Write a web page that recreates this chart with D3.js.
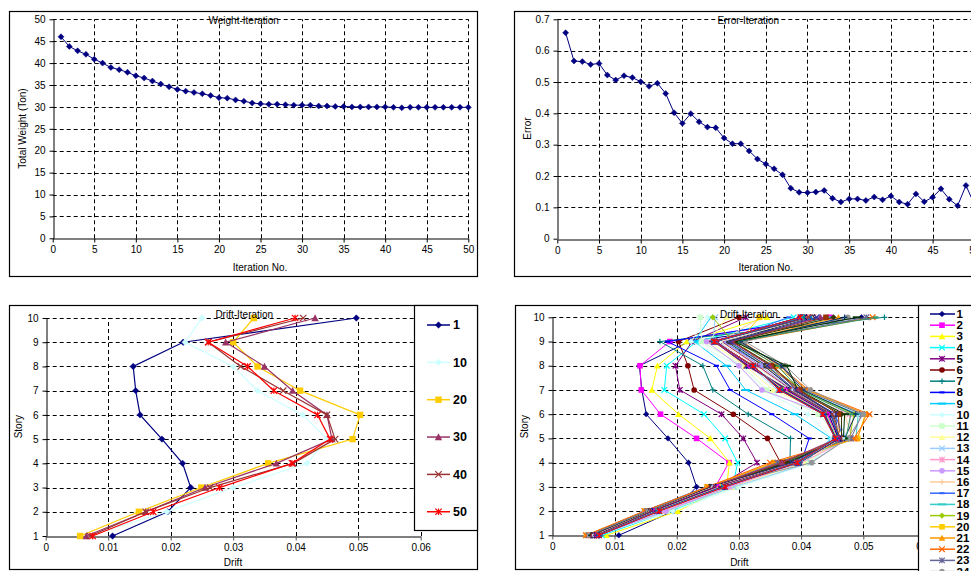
<!DOCTYPE html>
<html><head><meta charset="utf-8">
<script src="https://cdn.jsdelivr.net/npm/d3@7"></script>
<style>
body{margin:0;background:#fff}
svg{display:block}
text{font-family:"Liberation Sans",Arial,sans-serif;fill:#000}
</style>
</head><body>
<svg id="c" width="971" height="571"></svg>
<script>
// ---------------- DATA ----------------
const iterations = [1,2,3,4,5,6,7,8,9,10,11,12,13,14,15,16,17,18,19,20,21,22,23,24,25,26,27,28,29,30,31,32,33,34,35,36,37,38,39,40,41,42,43,44,45,46,47,48,49,50];
const weightValues = [46.0,43.8,42.8,42.0,40.9,40.0,39.0,38.5,37.9,37.1,36.6,35.9,35.2,34.6,34.0,33.6,33.3,33.0,32.6,32.1,32.0,31.6,31.3,30.9,30.7,30.6,30.6,30.5,30.4,30.4,30.4,30.2,30.2,30.1,30.1,30.0,30.0,30.0,30.0,30.0,29.9,29.8,29.9,29.9,29.9,29.9,29.9,29.9,29.9,29.9];
const errorValues = [0.657,0.567,0.565,0.556,0.559,0.522,0.506,0.520,0.514,0.501,0.486,0.496,0.463,0.402,0.368,0.399,0.373,0.356,0.354,0.321,0.303,0.303,0.280,0.254,0.238,0.223,0.204,0.161,0.148,0.147,0.149,0.154,0.129,0.117,0.127,0.127,0.122,0.133,0.124,0.136,0.117,0.110,0.143,0.118,0.132,0.159,0.126,0.105,0.170,0.110];

const iterTicks = [0,5,10,15,20,25,30,35,40,45,50];
const weightTicks = [0,5,10,15,20,25,30,35,40,45,50];
const errorTicks = [0,0.1,0.2,0.3,0.4,0.5,0.6,0.7];
const driftTicks = [0,0.01,0.02,0.03,0.04,0.05,0.06];
const driftTickLabels = ["0","0.01","0.02","0.03","0.04","0.05","0.06"];
const stories = [1,2,3,4,5,6,7,8,9,10];

// drift per story (story 1..10) for iterations 1..50
const driftValues = [
 [0.0107,0.0195,0.0232,0.0219,0.0186,0.0151,0.0144,0.0140,0.0220,0.0497], // 1
 [0.0060,0.0162,0.0262,0.0284,0.0232,0.0174,0.0143,0.0141,0.0189,0.0446], // 2
 [0.0087,0.0202,0.0280,0.0285,0.0254,0.0203,0.0160,0.0169,0.0216,0.0345], // 3
 [0.0080,0.0190,0.0290,0.0298,0.0278,0.0244,0.0180,0.0184,0.0232,0.0388], // 4
 [0.0065,0.0160,0.0265,0.0329,0.0307,0.0272,0.0205,0.0198,0.0225,0.0311], // 5
 [0.0063,0.0155,0.0255,0.0367,0.0346,0.0291,0.0228,0.0218,0.0203,0.0300], // 6
 [0.0062,0.0150,0.0250,0.0382,0.0383,0.0315,0.0258,0.0242,0.0173,0.0534], // 7
 [0.0058,0.0148,0.0248,0.0400,0.0413,0.0353,0.0286,0.0264,0.0185,0.0440], // 8
 [0.0060,0.0152,0.0255,0.0405,0.0449,0.0390,0.0311,0.0280,0.0228,0.0255], // 9
 [0.0068,0.0194,0.0300,0.0418,0.0450,0.0411,0.0339,0.0300,0.0223,0.0250], // 10
 [0.0070,0.0185,0.0295,0.0412,0.0462,0.0428,0.0345,0.0305,0.0240,0.0238], // 11
 [0.0066,0.0178,0.0288,0.0405,0.0470,0.0445,0.0355,0.0310,0.0252,0.0280], // 12
 [0.0072,0.0180,0.0292,0.0415,0.0475,0.0452,0.0362,0.0318,0.0258,0.0262], // 13
 [0.0068,0.0176,0.0285,0.0400,0.0480,0.0478,0.0378,0.0330,0.0265,0.0420], // 14
 [0.0074,0.0183,0.0282,0.0395,0.0465,0.0440,0.0337,0.0300,0.0248,0.0430], // 15
 [0.0064,0.0172,0.0278,0.0388,0.0482,0.0470,0.0385,0.0335,0.0270,0.0335], // 16
 [0.0062,0.0168,0.0272,0.0380,0.0468,0.0455,0.0390,0.0340,0.0275,0.0380], // 17
 [0.0060,0.0165,0.0268,0.0372,0.0488,0.0492,0.0398,0.0345,0.0282,0.0445], // 18
 [0.0058,0.0160,0.0262,0.0368,0.0478,0.0485,0.0400,0.0352,0.0290,0.0258], // 19
 [0.0055,0.0149,0.0249,0.0356,0.0491,0.0503,0.0407,0.0339,0.0300,0.0333], // 20
 [0.0056,0.0150,0.0252,0.0358,0.0490,0.0505,0.0410,0.0360,0.0300,0.0460], // 21
 [0.0054,0.0148,0.0250,0.0350,0.0485,0.0510,0.0412,0.0365,0.0305,0.0515], // 22
 [0.0058,0.0152,0.0256,0.0362,0.0480,0.0498,0.0405,0.0370,0.0298,0.0505], // 23
 [0.0060,0.0155,0.0260,0.0417,0.0475,0.0500,0.0415,0.0375,0.0310,0.0475], // 24
 [0.0062,0.0158,0.0258,0.0375,0.0470,0.0488,0.0402,0.0368,0.0302,0.0470], // 25
 [0.0064,0.0160,0.0260,0.0372,0.0472,0.0480,0.0398,0.0362,0.0296,0.0520], // 26
 [0.0066,0.0162,0.0262,0.0380,0.0468,0.0470,0.0395,0.0377,0.0292,0.0490], // 27
 [0.0064,0.0158,0.0257,0.0378,0.0465,0.0465,0.0392,0.0355,0.0290,0.0452], // 28
 [0.0066,0.0160,0.0256,0.0370,0.0462,0.0460,0.0398,0.0352,0.0289,0.0440], // 29
 [0.0065,0.0160,0.0255,0.0369,0.0458,0.0450,0.0395,0.0350,0.0288,0.0431], // 30
 [0.0068,0.0162,0.0258,0.0385,0.0460,0.0455,0.0390,0.0345,0.0285,0.0425], // 31
 [0.0067,0.0158,0.0256,0.0390,0.0462,0.0452,0.0388,0.0340,0.0280,0.0418], // 32
 [0.0069,0.0160,0.0260,0.0392,0.0458,0.0450,0.0385,0.0335,0.0275,0.0410], // 33
 [0.0070,0.0161,0.0262,0.0394,0.0460,0.0448,0.0384,0.0330,0.0272,0.0408], // 34
 [0.0068,0.0159,0.0260,0.0395,0.0465,0.0449,0.0382,0.0325,0.0270,0.0415], // 35
 [0.0071,0.0162,0.0264,0.0397,0.0464,0.0446,0.0380,0.0320,0.0266,0.0405], // 36
 [0.0070,0.0160,0.0262,0.0398,0.0462,0.0447,0.0378,0.0318,0.0264,0.0400], // 37
 [0.0072,0.0163,0.0265,0.0396,0.0460,0.0445,0.0380,0.0315,0.0262,0.0410], // 38
 [0.0071,0.0161,0.0264,0.0397,0.0461,0.0448,0.0381,0.0313,0.0261,0.0415], // 39
 [0.0071,0.0160,0.0263,0.0396,0.0463,0.0450,0.0380,0.0312,0.0260,0.0412], // 40
 [0.0072,0.0164,0.0266,0.0395,0.0460,0.0444,0.0376,0.0316,0.0261,0.0405], // 41
 [0.0073,0.0166,0.0268,0.0395,0.0458,0.0442,0.0374,0.0318,0.0260,0.0402], // 42
 [0.0073,0.0167,0.0270,0.0394,0.0458,0.0440,0.0372,0.0320,0.0261,0.0398], // 43
 [0.0074,0.0168,0.0272,0.0396,0.0457,0.0439,0.0370,0.0321,0.0260,0.0401], // 44
 [0.0074,0.0169,0.0273,0.0394,0.0456,0.0438,0.0369,0.0322,0.0259,0.0400], // 45
 [0.0074,0.0170,0.0275,0.0393,0.0456,0.0437,0.0368,0.0322,0.0260,0.0399], // 46
 [0.0075,0.0170,0.0276,0.0395,0.0455,0.0436,0.0367,0.0323,0.0260,0.0402], // 47
 [0.0075,0.0171,0.0277,0.0394,0.0455,0.0436,0.0366,0.0323,0.0261,0.0398], // 48
 [0.0075,0.0171,0.0277,0.0394,0.0455,0.0435,0.0365,0.0323,0.0260,0.0400], // 49
 [0.0075,0.0172,0.0278,0.0394,0.0455,0.0435,0.0365,0.0323,0.0260,0.0399]  // 50
];
const driftNames = iterations.map(String);
const seriesColors = ["#000080","#FF00FF","#FFFF00","#00FFFF","#800080","#800000","#008080","#0000FF",
 "#00CCFF","#CCFFFF","#CCFFCC","#FFFF99","#99CCFF","#FF99CC","#CC99FF","#FFCC99",
 "#3366FF","#33CCCC","#99CC00","#FFCC00","#FF9900","#FF6600","#666699","#969696",
 "#003366","#339966","#003300","#333300","#993300","#993366","#333399","#333333",
 "#9999FF","#993366","#FFFFCC","#CCFFFF","#660066","#FF8080","#0066CC","#993333",
 "#000080","#FF00FF","#FFFF00","#00FFFF","#800080","#800000","#008080","#0000FF","#00CCFF","#FF0000"];
const markerCycle = ["diamond","square","triangle","x","star","circle","plus","dash","longdash"];
const panel3Series = [1,10,20,30,40,50];
const panel3Colors = ["#000080","#CCFFFF","#FFCC00","#993366","#993333","#FF0000"];
const panel4LegendShown = 24; // entries that fit in the visible legend box

// ---------------- HELPERS ----------------
const svg = d3.select("#c");
const FS = 10;

function marker(g, type, color, s){
  if(type==="diamond") g.append("path").attr("d",`M0,${-s}L${s},0L0,${s}L${-s},0Z`).attr("fill",color).attr("stroke",color).attr("stroke-width",0.5);
  else if(type==="square") g.append("rect").attr("x",-s).attr("y",-s).attr("width",2*s).attr("height",2*s).attr("fill",color);
  else if(type==="triangle") g.append("path").attr("d",`M0,${-s-0.5}L${s+0.5},${s}L${-s-0.5},${s}Z`).attr("fill",color);
  else if(type==="circle") g.append("circle").attr("r",s).attr("fill",color);
  else {
    let d;
    if(type==="x") d=`M${-s},${-s}L${s},${s}M${-s},${s}L${s},${-s}`;
    else if(type==="star") d=`M${-s},${-s}L${s},${s}M${-s},${s}L${s},${-s}M0,${-s}L0,${s}`;
    else if(type==="plus") d=`M${-s},0L${s},0M0,${-s}L0,${s}`;
    else if(type==="dash") d=`M${-s*0.9},0L${s*0.9},0`;
    else d=`M${-s*1.5},0L${s*1.5},0`;
    g.append("path").attr("d",d).attr("fill","none").attr("stroke",color).attr("stroke-width",(type==="dash"||type==="longdash")?2:1.2);
  }
}

function frame(x0,y0,x1,y1){
  svg.append("rect").attr("x",x0+0.5).attr("y",y0+0.5).attr("width",x1-x0).attr("height",y1-y0)
    .attr("fill","#fff").attr("stroke","#000").attr("stroke-width",1.2);
}

function grid(g, x, y, xVals, yVals, xr, yr){
  xVals.forEach(v=>{ if(v===xr[0]) return;
    g.append("line").attr("x1",Math.round(x(v))+0.5).attr("x2",Math.round(x(v))+0.5).attr("y1",y(yr[0])).attr("y2",y(yr[1]))
     .attr("stroke","#000").attr("stroke-dasharray","4,3").attr("stroke-width",1);});
  yVals.forEach(v=>{ if(v===yr[0]) return;
    g.append("line").attr("y1",Math.round(y(v))+0.5).attr("y2",Math.round(y(v))+0.5).attr("x1",x(xr[0])).attr("x2",x(xr[1]))
     .attr("stroke","#000").attr("stroke-dasharray","4,3").attr("stroke-width",1);});
}

function axes(g, x, y, xTicks, yTicks, xFmt, yFmt, bottomColor){
  const xa = d3.axisBottom(x).tickValues(xTicks).tickSize(4).tickSizeOuter(0).tickFormat(xFmt);
  const ya = d3.axisLeft(y).tickValues(yTicks).tickSize(4).tickSizeOuter(0).tickFormat(yFmt);
  const gx = g.append("g").attr("transform",`translate(0,${Math.round(y.range()[0])+0.5})`).call(xa);
  const gy = g.append("g").attr("transform",`translate(${Math.round(x.range()[0])+0.5},0)`).call(ya);
  [gx,gy].forEach(a=>{
    a.selectAll("text").style("font-size",FS+"px").attr("fill","#000");
    a.selectAll("line").attr("stroke","#000");
  });
  gx.select(".domain").attr("stroke",bottomColor||"#000").attr("stroke-width",bottomColor?1.6:1);
  gy.select(".domain").attr("stroke","#000");
  gx.selectAll(".tick line").attr("stroke",bottomColor||"#000");
  gx.selectAll(".tick text").attr("dy","0.6em").attr("y",8);
  gy.selectAll(".tick text").attr("x",-8);
  return {gx,gy};
}

function label(x,y,t,opts={}){
  const el = svg.append("text").attr("x",x).attr("y",y).text(t).style("font-size",(opts.size||FS)+"px")
    .attr("text-anchor",opts.anchor||"middle");
  if(opts.rotate) el.attr("transform",`rotate(-90,${x},${y})`);
  if(opts.bold) el.style("font-weight","bold");
  return el;
}

// ---------------- PANEL 1: Weight-Iteration ----------------
frame(9,11,477,276);
{
  const g = svg.append("g");
  const x = d3.scaleLinear().domain([0,50]).range([52.7,468.3]);
  const y = d3.scaleLinear().domain([0,50]).range([238.3,19.3]);
  grid(g,x,y,iterTicks,weightTicks,[0,50],[0,50]);
  axes(g,x,y,iterTicks,weightTicks,d3.format("d"),d3.format("d"));
  label(243.7,24.3,"Weight-Iteration");
  g.append("path").datum(weightValues).attr("fill","none").attr("stroke","#000080").attr("stroke-width",1)
    .attr("d",d3.line().x((d,i)=>x(iterations[i])).y(d=>y(d)));
  weightValues.forEach((d,i)=>marker(g.append("g").attr("transform",`translate(${x(iterations[i])},${y(d)})`),"diamond","#000080",3));
  label(260,270.5,"Iteration No.");
  label(25.5,128.5,"Total Weight (Ton)",{rotate:true});
}

// ---------------- PANEL 2: Error-Iteration ----------------
frame(514,11,1100,276);
{
  const g = svg.append("g");
  const x = d3.scaleLinear().domain([0,50]).range([557.3,974.3]);
  const y = d3.scaleLinear().domain([0,0.7]).range([238.7,19.3]);
  grid(g,x,y,iterTicks,errorTicks,[0,50],[0,0.7]);
  axes(g,x,y,iterTicks,errorTicks,d3.format("d"),d=>d===0?"0":d3.format(".1f")(d));
  label(748.3,24.3,"Error-Iteration");
  g.append("path").datum(errorValues).attr("fill","none").attr("stroke","#000080").attr("stroke-width",1)
    .attr("d",d3.line().x((d,i)=>x(iterations[i])).y(d=>y(d)));
  errorValues.forEach((d,i)=>marker(g.append("g").attr("transform",`translate(${x(iterations[i])},${y(d)})`),"diamond","#000080",3));
  label(765.7,270.5,"Iteration No.");
  label(531,128.5,"Error",{rotate:true});
}

// ---------------- PANEL 3: Drift-Iteration (selected) ----------------
frame(9,305,477,569);
{
  const g = svg.append("g");
  const x = d3.scaleLinear().domain([0,0.06]).range([45.7,420.7]);
  const y = d3.scaleLinear().domain([1,10]).range([536,318]);
  grid(g,x,y,driftTicks,stories,[0,0.06],[1,10]);
  axes(g,x,y,driftTicks,stories,(d,i)=>driftTickLabels[i],d3.format("d"),"#555");
  label(244.3,318,"Drift-Iteration");
  panel3Series.forEach((sid,k)=>{
    const vals = driftValues[sid-1], col = panel3Colors[k], mk = markerCycle[(sid-1)%9];
    g.append("path").datum(vals).attr("fill","none").attr("stroke",col).attr("stroke-width",1.2)
      .attr("d",d3.line().x(d=>x(d)).y((d,i)=>y(stories[i])));
    vals.forEach((d,i)=>marker(g.append("g").attr("transform",`translate(${x(d)},${y(stories[i])})`),mk,col,3.2));
  });
  label(233,565.5,"Drift");
  label(22.5,426.7,"Story",{rotate:true});
  // legend
  svg.append("rect").attr("x",414.5).attr("y",305.5).attr("width",63).attr("height",225).attr("fill","#fff").attr("stroke","#000").attr("stroke-width",1.2);
  panel3Series.forEach((sid,k)=>{
    const ly = 325 + k*37.35, col = panel3Colors[k];
    svg.append("line").attr("x1",427).attr("x2",450).attr("y1",ly).attr("y2",ly).attr("stroke",col).attr("stroke-width",1.5);
    marker(svg.append("g").attr("transform",`translate(438.5,${ly})`),markerCycle[(sid-1)%9],col,3.2);
    label(453,ly+4.3,driftNames[sid-1],{anchor:"start",bold:true,size:12.5});
  });
}

// ---------------- PANEL 4: Drift-Iteration (all) ----------------
frame(515,305,1100,569);
{
  const g = svg.append("g");
  const x = d3.scaleLinear().domain([0,0.06]).range([552.3,925.5]);
  const y = d3.scaleLinear().domain([1,10]).range([535.3,317.3]);
  grid(g,x,y,driftTicks,stories,[0,0.06],[1,10]);
  axes(g,x,y,driftTicks,stories,(d,i)=>driftTickLabels[i],d3.format("d"),"#555");
  label(749,318,"Drift-Iteration");
  driftValues.forEach((vals,s)=>{
    const col = seriesColors[s], mk = markerCycle[s%9];
    g.append("path").datum(vals).attr("fill","none").attr("stroke",col).attr("stroke-width",1)
      .attr("d",d3.line().x(d=>x(d)).y((d,i)=>y(stories[i])));
    vals.forEach((d,i)=>marker(g.append("g").attr("transform",`translate(${x(d)},${y(stories[i])})`),mk,col,2.8));
  });
  label(739.3,565.5,"Drift");
  label(528.5,426.7,"Story",{rotate:true});
  // legend (box extends beyond the picture; only the first entries are visible)
  svg.append("rect").attr("x",918.5).attr("y",305.5).attr("width",200).attr("height",600).attr("fill","#fff").attr("stroke","#000").attr("stroke-width",1.2);
  driftValues.slice(0,panel4LegendShown).forEach((vals,s)=>{
    const ly = 314 + s*11.2, col = seriesColors[s];
    svg.append("line").attr("x1",930).attr("x2",955).attr("y1",ly).attr("y2",ly).attr("stroke",col).attr("stroke-width",1.5);
    marker(svg.append("g").attr("transform",`translate(942,${ly})`),markerCycle[s%9],col,2.8);
    label(956.5,ly+4,driftNames[s],{anchor:"start",bold:true,size:11.5});
  });
}
</script>
</body></html>
